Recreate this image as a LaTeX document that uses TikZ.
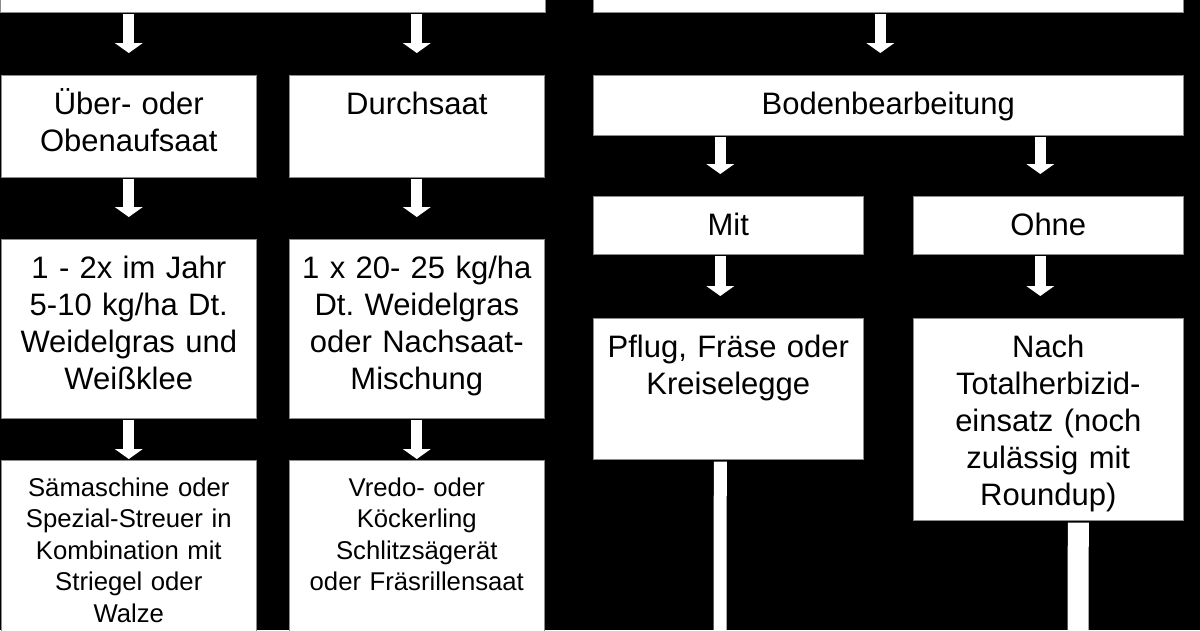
\documentclass[tikz,border=0pt]{standalone}
\usepackage{fontspec}
\setmainfont{Liberation Sans}
\usetikzlibrary{arrows.meta}
\frenchspacing

\begin{document}
\begin{tikzpicture}[x=1pt, y=-1pt,
  box/.style={fill=white, draw=black!45, line width=0.6pt, anchor=north west, align=center,
    inner xsep=4pt, inner ysep=0pt, text height=39pt, font=\fontsize{31}{37}\selectfont},
  narrow/.style={box, text width=247pt},
  side/.style={box, text width=262pt},
  wide/.style={box, text width=582pt},
  small/.style={font=\fontsize{25.7}{31.5}\selectfont, text height=36pt},
  flow/.style={white, line width=11pt, -{Triangle[width=28pt, length=10pt, line width=0pt]},
    shorten <=1pt, shorten >=22pt},
  stem/.style={white, line width=#1}]
  \useasboundingbox (0,0) rectangle (1200,630);
  \clip (0,0) rectangle (1200,630);
  \fill[black] (0,0) rectangle (1200,630);

  \node[box, anchor=south west, minimum width=545pt, minimum height=40pt, text height=0pt] (oben) at (0,13) {};
  \node[box, anchor=south west, minimum width=590pt, minimum height=40pt, text height=0pt] (rechts) at (593,13) {};

  \node[narrow, text depth=63pt] (ueber) at (1,75) {Über- oder\\Obenaufsaat};
  \node[narrow, text depth=63pt] (durch) at (289,75) {Durchsaat};
  \node[wide, text depth=21pt] (boden) at (593,75) {Bodenbearbeitung};

  \node[narrow, text depth=140pt] (jahr) at (1,239) {1 - 2x im Jahr\\5-10 kg/ha Dt.\\Weidelgras und\\Weißklee};
  \node[narrow, text depth=140pt] (menge) at (289,239) {1 x 20- 25 kg/ha\\Dt. Weidelgras\\oder Nachsaat-\\Mischung};
  \node[side, text depth=19pt] (mit) at (593,196) {Mit};
  \node[side, text depth=19pt] (ohne) at (913,196) {Ohne};

  \node[side, text depth=102pt] (pflug) at (593,318) {Pflug, Fräse oder\\Kreiselegge};
  \node[side, text depth=163pt] (nach) at (913,318) {Nach\\Totalherbizid-\\einsatz (noch\\zulässig mit\\Roundup)};

  \node[narrow, small, text depth=160pt] (maschine) at (1,460) {Sämaschine oder\\Spezial-Streuer in\\Kombination mit\\Striegel oder\\Walze};
  \node[narrow, small, text depth=160pt] (vredo) at (289,460) {Vredo- oder\\Köckerling\\Schlitzsägerät\\oder Fräsrillensaat};

  \coordinate (pflugfuss) at (720,640);
  \coordinate (nachfuss) at (1078,640);

  \draw[flow] (oben.south -| ueber.north) -- (ueber.north);
  \draw[flow] (oben.south -| durch.north) -- (durch.north);
  \draw[flow] ([xshift=-8pt]boden.north |- rechts.south) -- ([xshift=-8pt]boden.north);
  \draw[flow] (ueber.south) -- (jahr.north);
  \draw[flow] (durch.south) -- (menge.north);
  \draw[flow] ([xshift=-8pt]mit.north |- boden.south) -- ([xshift=-8pt]mit.north);
  \draw[flow] ([xshift=-8pt]ohne.north |- boden.south) -- ([xshift=-8pt]ohne.north);
  \draw[flow, shorten >=1pt] (jahr.south) -- (maschine.north);
  \draw[flow, shorten >=1pt] (menge.south) -- (vredo.north);
  \draw[flow] ([xshift=-8pt]mit.south) -- ([xshift=-8pt]pflug.north);
  \draw[flow] ([xshift=-8pt]ohne.south) -- ([xshift=-8pt]nach.north);
  \draw[stem=13pt] ([xshift=-8pt, yshift=-2pt]pflug.south) -- (pflugfuss);
  \draw[stem=21pt] ([xshift=30pt, yshift=-2pt]nach.south) -- (nachfuss);
\end{tikzpicture}
\end{document}
